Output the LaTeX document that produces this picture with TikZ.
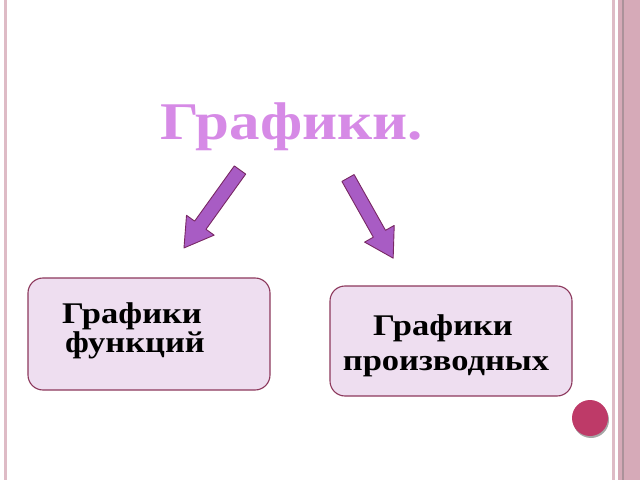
\documentclass[tikz,border=0pt]{standalone}
\usepackage{fontspec}
\setmainfont{Liberation Serif}
\newfontfamily\wideserif[FakeStretch=1.15]{Liberation Serif}
\usepackage{tikz}
\definecolor{titleviolet}{RGB}{214,138,230}
\definecolor{arrowfill}{RGB}{168,92,196}
\definecolor{arrowline}{RGB}{120,40,100}
\definecolor{boxfill}{RGB}{238,222,240}
\definecolor{boxline}{RGB}{140,56,92}
\definecolor{rimpink}{RGB}{214,170,184}
\definecolor{dotred}{RGB}{190,58,104}
\tikzset{
  blockarrow/.style={fill=arrowfill,draw=arrowline,line width=0.9pt,line join=round},
  topicbox/.style={draw=boxline,fill=boxfill,line width=1.1pt,rounded corners=15pt,
    minimum width=242pt,inner sep=0pt},
  boxtext/.style={font=\wideserif\bfseries\fontsize{30}{34}\selectfont,anchor=base}
}
\begin{document}
\begin{tikzpicture}[x=1pt,y=1pt]
\useasboundingbox (0,0) rectangle (640,480);
% page rims
\fill[rimpink!80] (4,0) rectangle (7,480);
\fill[rimpink!80] (612,0) rectangle (614.5,480);
\fill[rimpink] (618,0) rectangle (640,480);
\fill[rimpink!70!black!80] (622,0) rectangle (624,480);
% title
\node[text=titleviolet,font=\wideserif\bfseries\fontsize{53}{58}\selectfont,anchor=base] (title) at (292,340) {Графики.};
% arrows
\coordinate (ltail) at (240,310);
\coordinate (rtail) at (348,302);
\draw[blockarrow,shift={(ltail)},rotate=234.3]
  (0,-7) -- (68,-7) -- (68,-17) -- (96,0) -- (68,17) -- (68,7) -- (0,7) -- cycle;
\draw[blockarrow,shift={(rtail)},rotate=-60.6]
  (0,-7) -- (64,-7) -- (64,-17) -- (92,0) -- (64,17) -- (64,7) -- (0,7) -- cycle;
% boxes
\node[topicbox,minimum height=112pt] (funcs) at (149,146) {};
\node[topicbox,minimum height=110pt] (derivs) at (451,139) {};
\node[boxtext] (funcsa) at (132,157) {Графики};
\node[boxtext] (funcsb) at (135,128) {функций};
\node[boxtext] (derivsa) at (443,145) {Графики};
\node[boxtext] (derivsb) at (446,110) {производных};
% dot
\fill[black!35] (591,60) circle[radius=18];
\fill[dotred] (590,62) circle[radius=18];
\end{tikzpicture}
\end{document}
